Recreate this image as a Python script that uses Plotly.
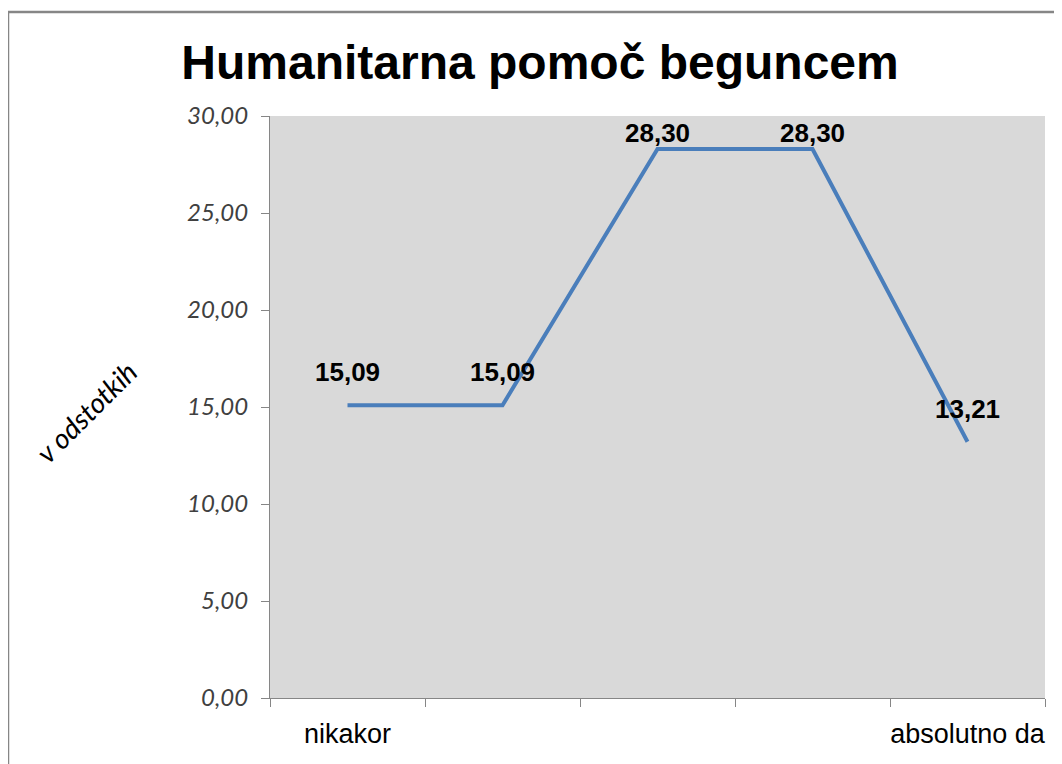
import plotly.graph_objects as go

categories = ["nikakor", "", "", "", "absolutno da"]
values = [15.09, 15.09, 28.30, 28.30, 13.21]
y_ticks = [0, 5, 10, 15, 20, 25, 30]
title_text = "Humanitarna pomoč beguncem"
y_title = "v odstotkih"

# vertical offset (px) of each data label above its point
label_shift = [33, 33, 16, 16, 33]

# page offset of the figure (browser body margin)
OFF = 8
W, H = 1062, 764
L, R, T, B = 270 - OFF, W - (1045 - OFF), 116 - OFF, H - (698 - OFF)
pw, ph = W - L - R, H - T - B


def px_x(x):
    return (x - OFF - L) / pw


def px_y(y):
    return (H - B - (y - OFF)) / ph


x_idx = list(range(len(categories)))
fig = go.Figure()
fig.add_trace(go.Scatter(
    x=x_idx, y=values, mode="lines",
    line=dict(color="#4A7EBB", width=4),
    hoverinfo="skip", showlegend=False,
))

for xi, v, s in zip(x_idx, values, label_shift):
    fig.add_annotation(
        x=xi, y=v, xref="x", yref="y", text=f"{v:.2f}".replace(".", ","),
        showarrow=False, yshift=s, yanchor="middle", xanchor="center",
        font=dict(family="Liberation Sans, Arial", size=26, color="#000000", weight="bold"),
    )

fig.add_annotation(
    x=px_x(86), y=px_y(412), xref="paper", yref="paper", text=y_title, showarrow=False,
    textangle=-45, xanchor="center", yanchor="middle",
    font=dict(family="Lato", size=28, color="#000000", style="italic"),
)

fig.update_layout(
    width=W, height=H,
    margin=dict(l=L, r=R, t=T, b=B),
    paper_bgcolor="#FFFFFF",
    plot_bgcolor="#D9D9D9",
    separators=",.",
    title=dict(
        text=title_text, x=(540 - OFF) / W, xref="container", xanchor="center",
        y=1 - (62 - OFF) / H, yref="container", yanchor="middle",
        font=dict(family="Liberation Sans, Arial", size=48, color="#000000", weight="bold"),
    ),
    xaxis=dict(
        range=[-0.5, len(categories) - 0.5],
        tickvals=x_idx, ticktext=categories,
        ticks="", showgrid=False, zeroline=False,
        showline=True, linecolor="#868686", linewidth=1,
        tickfont=dict(family="Liberation Sans, Arial", size=27, color="#000000"),
        ticklabelstandoff=12,
        minor=dict(
            tickvals=[i - 0.5 for i in range(len(categories) + 1)],
            ticks="outside", ticklen=8, tickcolor="#868686", tickwidth=1,
            showgrid=False,
        ),
    ),
    yaxis=dict(
        range=[0, 30], tickvals=y_ticks, tickformat=".2f",
        ticks="outside", ticklen=8, tickcolor="#868686", tickwidth=1,
        showgrid=False, zeroline=False,
        showline=True, linecolor="#868686", linewidth=1,
        ticklabelstandoff=8,
        tickfont=dict(family="Lato", size=24, color="#404040", style="italic"),
    ),
)

# outer chart frame
fig.add_shape(
    type="rect", xref="paper", yref="paper",
    x0=px_x(8), x1=px_x(1090),
    y0=px_y(790), y1=px_y(12),
    line=dict(color="#868686", width=2.5), fillcolor="rgba(0,0,0,0)", layer="below",
)

fig.write_html("out.html")
